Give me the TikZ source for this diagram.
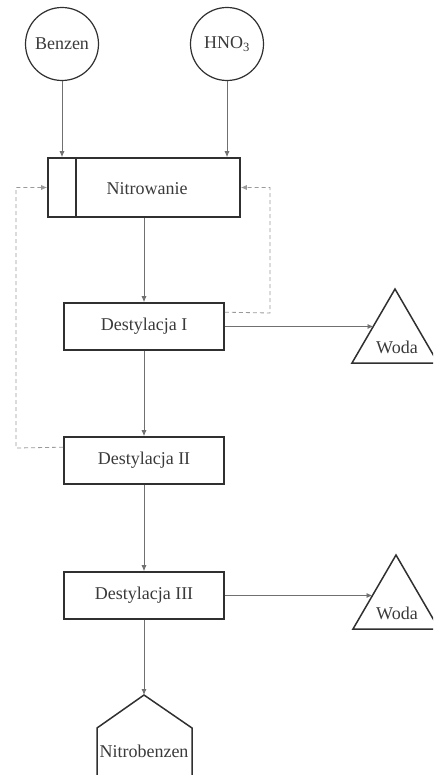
\documentclass[tikz,border=0pt]{standalone}
\usepackage{fontspec}
\setmainfont{Liberation Serif}
\usetikzlibrary{arrows.meta,calc}
\definecolor{txt}{HTML}{3A3A3A}
\definecolor{boxc}{HTML}{303030}
\definecolor{linec}{HTML}{707070}
\definecolor{dashc}{HTML}{9A9A9A}
\begin{document}
\begin{tikzpicture}[x=1pt,y=-1pt,
  font=\fontsize{18}{20}\selectfont,
  box/.style={draw=boxc, line width=1.6pt, minimum width=160pt, minimum height=47pt, inner sep=0pt, text=txt},
  src/.style={circle, draw=boxc, line width=1.2pt, minimum size=73pt, inner sep=0pt, text=txt},
  lbl/.style={text=txt, inner sep=0pt},
  shp/.style={draw=boxc, line width=1.5pt, line join=miter},
  flow/.style={draw=linec, line width=0.8pt, -{Latex[length=6pt,width=5pt]}},
  rec/.style={draw=dashc, line width=0.8pt, dash pattern=on 4pt off 3pt, -{Latex[length=6pt,width=5pt]}}]
\useasboundingbox (0,0) rectangle (433,775);
\clip (0,0) rectangle (433,775);
% sources
\node[src] (benzen) at (62,44) {Benzen};
\node[src] (hno) at (227,44) {HNO\textsubscript{3}};
% nitration
\node[box, minimum width=192pt, minimum height=59pt] (nitro) at (144,187.5) {};
\node[lbl] (nitrotxt) at (147,189) {Nitrowanie};
\draw[boxc, line width=1.6pt] (76,158) -- (76,217);
% distillations
\node[box] (d1) at (144,326.5) {Destylacja I};
\node[box] (d2) at (144,460.5) {Destylacja II};
\node[box] (d3) at (144,595.5) {Destylacja III};
% water triangles
\coordinate (w1top) at (395,289);
\draw[shp] (w1top) -- (352,363) -- (438,363) -- cycle;
\node[lbl] (w1) at (397,347) {Woda};
\coordinate (w1in) at (373.5,326.5);
\coordinate (w2top) at (396,555);
\draw[shp] (w2top) -- (353,629) -- (439,629) -- cycle;
\node[lbl] (w2) at (397,613) {Woda};
\coordinate (w2in) at (372.5,595.5);
% product
\coordinate (ptop) at (144,695);
\draw[shp] (97,790) -- (97,728) -- (ptop) -- (192,728) -- (192,790);
\node[lbl] (prod) at (144,751) {Nitrobenzen};
% connectors
\draw[flow] (benzen.south) -- (benzen.south |- nitro.north);
\draw[flow] (hno.south) -- (hno.south |- nitro.north);
\draw[flow] (nitro.south) -- (d1.north);
\draw[flow] (d1.south) -- (d2.north);
\draw[flow] (d2.south) -- (d3.north);
\draw[flow] (d3.south) -- (ptop);
\draw[flow] (d1.east) -- (w1in);
\draw[flow] (d3.east) -- (w2in);
% recycles
\draw[rec] ($(d2.north west)+(0,11)$) -- (16,448) -- (16,187.5) -- (nitro.west);
\draw[rec] ($(d1.north east)+(0,10)$) -- (270,313) -- (270,187.5) -- (nitro.east);
\end{tikzpicture}
\end{document}
